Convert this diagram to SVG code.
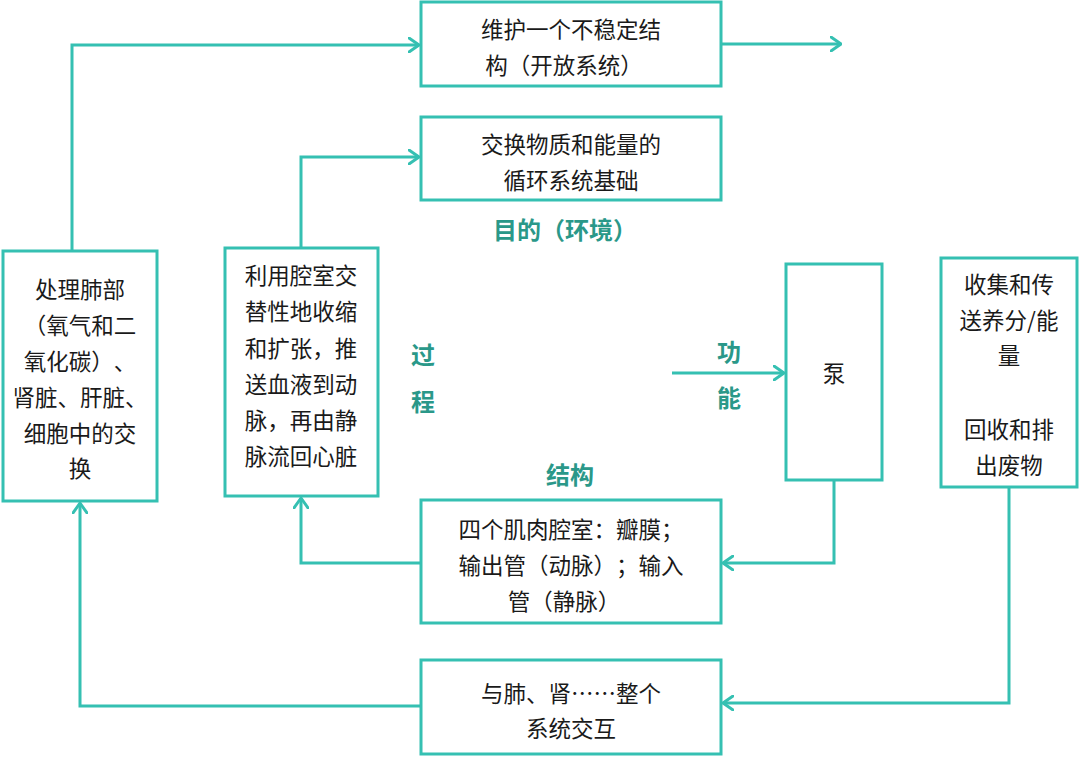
<svg xmlns="http://www.w3.org/2000/svg" width="1080" height="757" viewBox="0 0 1080 757" xml:lang="zh-CN">
<defs>
<marker id="arr" viewBox="0 0 12 16" refX="11" refY="8" markerWidth="12" markerHeight="16" markerUnits="userSpaceOnUse" orient="auto">
<path d="M1,1 L11,8 L1,15" fill="none" stroke="#35c0b2" stroke-width="3" stroke-linecap="round" stroke-linejoin="round"/>
</marker>
<style>
text{text-spacing-trim:space-all}
.box{fill:#fff;stroke:#35c0b2;stroke-width:3}
.t{font-family:"Noto Sans CJK SC","Noto Sans",sans-serif;font-size:22.5px;fill:#1a1a1a;text-anchor:middle;dominant-baseline:central}
.lb{font-family:"Noto Sans CJK SC","Noto Sans",sans-serif;font-size:24px;font-weight:bold;fill:#2a9889;text-anchor:middle;dominant-baseline:central}
.c{fill:none;stroke:#35c0b2;stroke-width:3;marker-end:url(#arr)}
</style>
</defs>
<rect width="1080" height="757" fill="#fff"/>
<g id="connectors">
<path class="c" d="M72,251 V45 H419"/>
<path class="c" d="M722,44 H841"/>
<path class="c" d="M301,248 V157 H419"/>
<path class="c" d="M672,373 H784"/>
<path class="c" d="M834,480 V563 H723"/>
<path class="c" d="M421,563 H301 V498"/>
<path class="c" d="M1009,487 V703 H723"/>
<path class="c" d="M421,706 H80 V503"/>
</g>
<g id="n-maintain">
<rect class="box" x="421" y="2" width="300" height="84"/>
<text class="t" x="571" y="28">维护一个不稳定结</text>
<text class="t" x="564" y="64">构（开放系统）</text>
</g>
<g id="n-exchange">
<rect class="box" x="421" y="117" width="300" height="83"/>
<text class="t" x="571" y="143">交换物质和能量的</text>
<text class="t" x="571" y="179">循环系统基础</text>
</g>
<g id="l-purpose"><text class="lb" x="565" y="228">目的（环境）</text></g>
<g id="n-left">
<rect class="box" x="3" y="251" width="154" height="250"/>
<text class="t" x="80" y="288">处理肺部</text>
<text class="t" x="80" y="324">（氧气和二</text>
<text class="t" x="80" y="360">氧化碳）、</text>
<text class="t" x="80" y="396">肾脏、肝脏、</text>
<text class="t" x="80" y="432">细胞中的交</text>
<text class="t" x="80" y="467">换</text>
</g>
<g id="n-process">
<rect class="box" x="225" y="248" width="153" height="248"/>
<text class="t" x="301" y="274">利用腔室交</text>
<text class="t" x="301" y="310">替性地收缩</text>
<text class="t" x="301" y="347">和扩张，推</text>
<text class="t" x="301" y="383">送血液到动</text>
<text class="t" x="301" y="419">脉，再由静</text>
<text class="t" x="301" y="455">脉流回心脏</text>
</g>
<g id="l-process">
<text class="lb" x="423" y="353">过</text>
<text class="lb" x="423" y="400">程</text>
</g>
<g id="l-function">
<text class="lb" x="729" y="350">功</text>
<text class="lb" x="729" y="396">能</text>
</g>
<g id="n-pump">
<rect class="box" x="786" y="264" width="96" height="216"/>
<text class="t" x="834" y="372">泵</text>
</g>
<g id="n-right">
<rect class="box" x="941" y="258" width="136" height="229"/>
<text class="t" x="1009" y="283">收集和传</text>
<text class="t" x="1009" y="319">送养分/能</text>
<text class="t" x="1009" y="354">量</text>
<text class="t" x="1009" y="428">回收和排</text>
<text class="t" x="1009" y="464">出废物</text>
</g>
<g id="l-structure"><text class="lb" x="570" y="473">结构</text></g>
<g id="n-structure">
<rect class="box" x="421" y="500" width="300" height="123"/>
<text class="t" x="571" y="528">四个肌肉腔室：瓣膜；</text>
<text class="t" x="571" y="564">输出管（动脉）；输入</text>
<text class="t" x="564" y="600">管（静脉）</text>
</g>
<g id="n-system">
<rect class="box" x="421" y="660" width="300" height="94"/>
<text class="t" x="571" y="692">与肺、肾……整个</text>
<text class="t" x="571" y="727">系统交互</text>
</g>
</svg>
